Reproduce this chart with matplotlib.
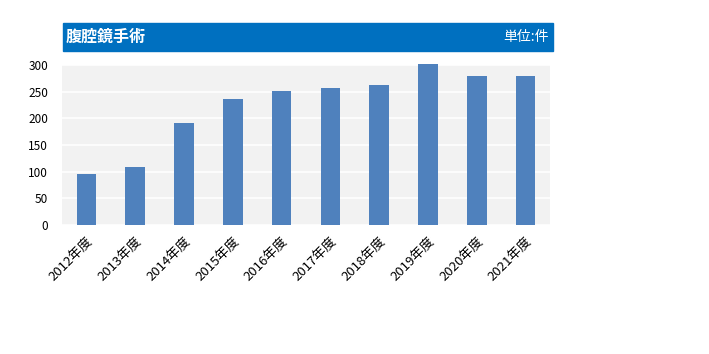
import matplotlib
matplotlib.use('Agg')
import matplotlib.pyplot as plt
from matplotlib.patches import Rectangle

plt.rcParams['font.family'] = ['Noto Sans CJK JP', 'DejaVu Sans']

years = ['2012年度', '2013年度', '2014年度', '2015年度', '2016年度',
         '2017年度', '2018年度', '2019年度', '2020年度', '2021年度']
cases = [95, 108, 192, 237, 252, 257, 263, 302, 280, 280]
yticks = [0, 50, 100, 150, 200, 250, 300]

W, H = 709, 354
fig = plt.figure(figsize=(W / 100, H / 100), dpi=100)
ax = fig.add_axes([62 / W, (H - 225) / H, 488 / W, 160 / H])

ax.set_facecolor('#F2F2F2')
x = list(range(len(years)))
ax.bar(x, cases, width=0.4, color='#4F81BD', zorder=3, clip_on=False)
ax.set_xlim(-0.5, len(years) - 0.5)
ax.set_ylim(0, 300)
ax.set_yticks(yticks)
ax.set_xticks(x)
ax.set_xticklabels(years, rotation=45, ha='right', rotation_mode='anchor', fontsize=9.5)
ax.tick_params(axis='y', labelsize=8.5, length=0, pad=10)
ax.tick_params(axis='x', length=0, pad=7)
ax.grid(axis='y', color='white', linewidth=1.2, zorder=1)
for s in ax.spines.values():
    s.set_visible(False)

# title banner
fig.patches.append(Rectangle((63 / W, (H - 51) / H), 490 / W, 28 / H,
                             transform=fig.transFigure, color='#0070C0', zorder=0))
fig.text(66 / W, (H - 37) / H, '腹腔鏡手術', color='white', fontsize=11.5,
         fontweight='bold', va='center', ha='left')
fig.text(549 / W, (H - 37) / H, '単位:件', color='white', fontsize=10,
         va='center', ha='right')

plt.savefig('out.png', dpi=100)
plt.close()
